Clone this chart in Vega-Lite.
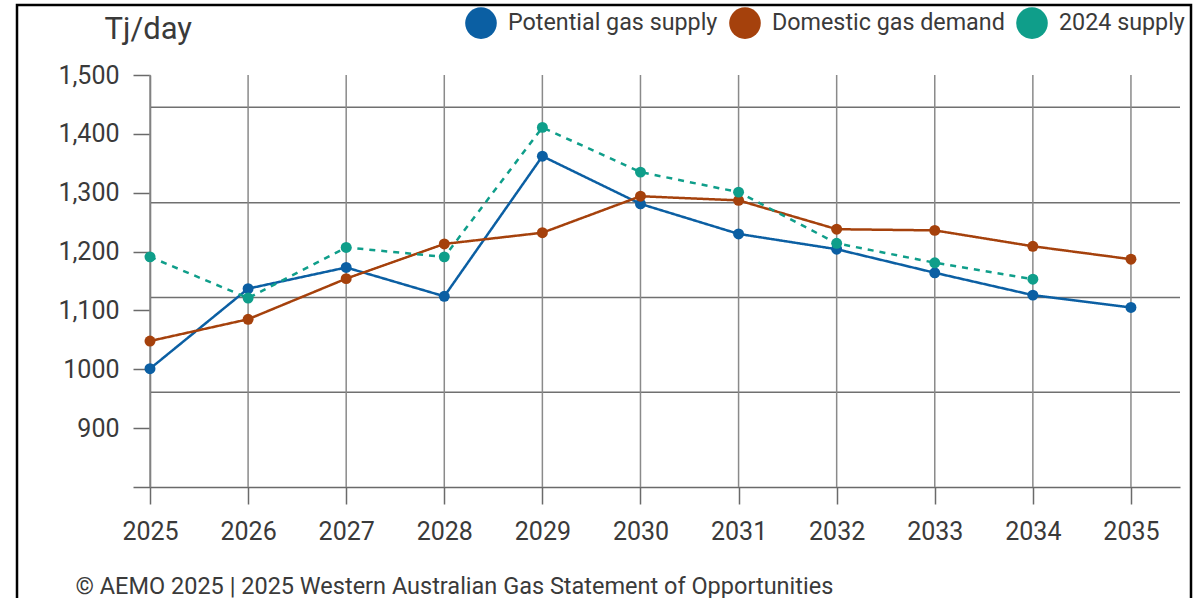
{
  "$schema": "https://vega.github.io/schema/vega-lite/v6.json",
  "width": 1174,
  "height": 600,
  "autosize": "none",
  "padding": {"left": 17, "top": 5, "right": 13, "bottom": 0},
  "background": "white",
  "config": {
    "font": "Roboto",
    "view": {"stroke": "#000000", "strokeWidth": 2.5},
    "axis": {"labelFont": "Roboto", "titleFont": "Roboto", "labelColor": "#3a3a3a", "titleColor": "#3a3a3a", "tickColor": "#6a6a6a", "domainColor": "#6a6a6a", "tickWidth": 1.5, "domainWidth": 1.5}
  },
  "datasets": {
    "series": [
      {"year": 2025, "series": "Potential gas supply", "value": 1001},
      {"year": 2026, "series": "Potential gas supply", "value": 1137},
      {"year": 2027, "series": "Potential gas supply", "value": 1173},
      {"year": 2028, "series": "Potential gas supply", "value": 1124},
      {"year": 2029, "series": "Potential gas supply", "value": 1362},
      {"year": 2030, "series": "Potential gas supply", "value": 1281},
      {"year": 2031, "series": "Potential gas supply", "value": 1230},
      {"year": 2032, "series": "Potential gas supply", "value": 1204},
      {"year": 2033, "series": "Potential gas supply", "value": 1164},
      {"year": 2034, "series": "Potential gas supply", "value": 1126},
      {"year": 2035, "series": "Potential gas supply", "value": 1105},
      {"year": 2025, "series": "Domestic gas demand", "value": 1048},
      {"year": 2026, "series": "Domestic gas demand", "value": 1085},
      {"year": 2027, "series": "Domestic gas demand", "value": 1154},
      {"year": 2028, "series": "Domestic gas demand", "value": 1213},
      {"year": 2029, "series": "Domestic gas demand", "value": 1232},
      {"year": 2030, "series": "Domestic gas demand", "value": 1294},
      {"year": 2031, "series": "Domestic gas demand", "value": 1287},
      {"year": 2032, "series": "Domestic gas demand", "value": 1238},
      {"year": 2033, "series": "Domestic gas demand", "value": 1236},
      {"year": 2034, "series": "Domestic gas demand", "value": 1209},
      {"year": 2035, "series": "Domestic gas demand", "value": 1187},
      {"year": 2025, "series": "2024 supply", "value": 1191},
      {"year": 2026, "series": "2024 supply", "value": 1121},
      {"year": 2027, "series": "2024 supply", "value": 1207},
      {"year": 2028, "series": "2024 supply", "value": 1191},
      {"year": 2029, "series": "2024 supply", "value": 1411},
      {"year": 2030, "series": "2024 supply", "value": 1335},
      {"year": 2031, "series": "2024 supply", "value": 1301},
      {"year": 2032, "series": "2024 supply", "value": 1214},
      {"year": 2033, "series": "2024 supply", "value": 1181},
      {"year": 2034, "series": "2024 supply", "value": 1153}
    ],
    "hgrid": [{"g": 961}, {"g": 1122}, {"g": 1283}, {"g": 1445}],
    "years": [
      {"year": 2025}, {"year": 2026}, {"year": 2027}, {"year": 2028}, {"year": 2029}, {"year": 2030},
      {"year": 2031}, {"year": 2032}, {"year": 2033}, {"year": 2034}, {"year": 2035}
    ]
  },
  "layer": [
    {
      "data": {"name": "hgrid"},
      "mark": {"type": "rule", "color": "#707070", "strokeWidth": 1.5},
      "encoding": {
        "y": {
          "field": "g", "type": "quantitative",
          "scale": {"domain": [800, 1500], "range": [482, 70], "nice": false, "zero": false},
          "axis": {
            "values": [800, 900, 1000, 1100, 1200, 1300, 1400, 1500],
            "labelExpr": "datum.value == 800 ? '' : datum.value == 1000 ? '1000' : format(datum.value, ',')",
            "labelFontSize": 25, "tickSize": 17, "labelPadding": 14, "grid": false,
            "offset": -133,
            "title": "Tj/day", "titleFontSize": 31, "titleFontWeight": "normal", "titleAngle": 0,
            "titleAlign": "left", "titleBaseline": "alphabetic", "titleX": -46, "titleY": 33
          }
        },
        "x": {
          "datum": 2025, "type": "quantitative",
          "scale": {"domain": [2025, 2035.5], "range": [133, 1163], "nice": false, "zero": false},
          "axis": {
            "values": [2025, 2026, 2027, 2028, 2029, 2030, 2031, 2032, 2033, 2034, 2035],
            "format": "d", "labelFontSize": 25, "tickSize": 17, "labelPadding": 15, "grid": false,
            "labelFlush": false, "labelBound": false, "labelOverlap": false,
            "offset": -118,
            "title": "© AEMO 2025 | 2025 Western Australian Gas Statement of Opportunities",
            "titleFontSize": 23.5, "titleFontWeight": "normal", "titleAlign": "left", "titleBaseline": "middle",
            "titleX": 58, "titleY": 99, "titleAnchor": "start"
          }
        },
        "x2": {"datum": 2035.5}
      }
    },
    {
      "data": {"name": "years"},
      "mark": {"type": "rule", "color": "#8a8a8a", "strokeWidth": 1.5},
      "encoding": {
        "x": {"field": "year", "type": "quantitative"},
        "y": {"datum": 800, "type": "quantitative"},
        "y2": {"datum": 1500}
      }
    },
    {
      "data": {"name": "series"},
      "mark": {"type": "line", "strokeWidth": 2.5},
      "encoding": {
        "x": {"field": "year", "type": "quantitative"},
        "y": {"field": "value", "type": "quantitative"},
        "color": {
          "field": "series", "type": "nominal",
          "scale": {"domain": ["Potential gas supply", "Domestic gas demand", "2024 supply"], "range": ["#0B5FA3", "#A5410C", "#0F9E8A"]},
          "legend": {
            "orient": "none", "legendX": 448, "legendY": 2, "direction": "horizontal", "title": null,
            "symbolType": "circle", "symbolSize": 1000, "symbolStrokeWidth": 0, "symbolOpacity": 1,
            "labelFontSize": 23.3, "labelColor": "#3a3a3a", "labelFont": "Roboto", "labelOffset": 11,
            "columnPadding": 11, "padding": 0, "labelLimit": 400
          }
        },
        "strokeDash": {"condition": {"test": "datum.series === '2024 supply'", "value": [6, 6]}, "value": [1, 0]}
      }
    },
    {
      "data": {"name": "series"},
      "mark": {"type": "point", "filled": true, "opacity": 1, "size": 120, "shape": "circle"},
      "encoding": {
        "x": {"field": "year", "type": "quantitative"},
        "y": {"field": "value", "type": "quantitative"},
        "color": {
          "field": "series", "type": "nominal",
          "legend": {
            "orient": "none", "legendX": 448, "legendY": 2, "direction": "horizontal", "title": null,
            "symbolType": "circle", "symbolSize": 1000, "symbolStrokeWidth": 0, "symbolOpacity": 1,
            "labelFontSize": 23.3, "labelColor": "#3a3a3a", "labelFont": "Roboto", "labelOffset": 11,
            "columnPadding": 11, "padding": 0, "labelLimit": 400
          }
        }
      }
    }
  ]
}
